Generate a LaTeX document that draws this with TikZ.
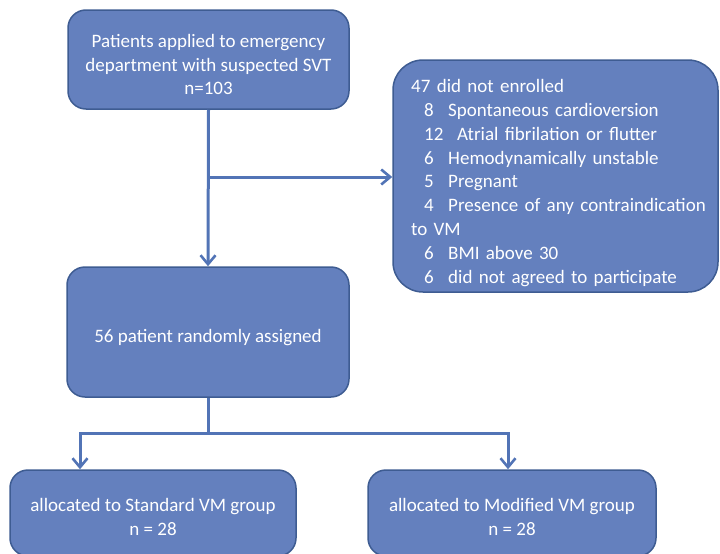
\documentclass[tikz,border=0pt]{standalone}
\usepackage{fontspec}
\setmainfont{Carlito}
\usetikzlibrary{arrows.meta}
\definecolor{boxfill}{RGB}{100,128,190}
\definecolor{boxline}{RGB}{62,92,146}
\definecolor{conn}{RGB}{82,116,182}
\tikzset{
  flowbox/.style={draw=boxline, line width=1.5pt, fill=boxfill,
    rounded corners=18pt, inner sep=0pt},
  boxtext/.style={text=white, align=center, inner sep=0pt,
    font=\fontsize{19}{23.8}\selectfont},
  conline/.style={draw=conn, line width=3pt},
  conarrow/.style={conline, -{Straight Barb[length=9pt,width=15pt,line width=2.6pt]}}
}
\begin{document}
\begin{tikzpicture}[x=1pt,y=-1pt]
\useasboundingbox (0,0) rectangle (720,554);
\node[flowbox, minimum width=281pt, minimum height=99pt] (top) at (208.5,59.5) {};
\node[boxtext] (toptxt) at ([yshift=-5pt]top.center)
  {Patients applied to emergency\\department with suspected SVT\\n=103};
\node[flowbox, rounded corners=30pt, minimum width=325pt, minimum height=232pt] (excl) at (555.5,176) {};
\node[boxtext, anchor=west, align=left, text width=300pt] (excltxt) at (411,183)
  {47 did not enrolled\\
   \hspace*{13pt}\makebox[24pt][l]{8}Spontaneous cardioversion\\
   \hspace*{13pt}\makebox[33pt][l]{12}Atrial fibrilation or flutter\\
   \hspace*{13pt}\makebox[24pt][l]{6}Hemodynamically unstable\\
   \hspace*{13pt}\makebox[24pt][l]{5}Pregnant\\
   \hspace*{13pt}\makebox[24pt][l]{4}Presence of any contraindication\\
   to VM\\
   \hspace*{13pt}\makebox[24pt][l]{6}BMI above 30\\
   \hspace*{13pt}\makebox[24pt][l]{6}did not agreed to participate};
\node[flowbox, minimum width=282pt, minimum height=130pt] (mid) at (208,332) {};
\node[boxtext] (midtxt) at ([yshift=-6pt]mid.center) {56 patient randomly assigned};
\node[flowbox, minimum width=286pt, minimum height=86pt] (left) at (153,513) {};
\node[boxtext] (lefttxt) at ([yshift=-4pt]left.center) {allocated to Standard VM group\\n = 28};
\node[flowbox, minimum width=288pt, minimum height=86pt] (right) at (512,513) {};
\node[boxtext] (righttxt) at ([yshift=-4pt]right.center) {allocated to Modified VM group\\n = 28};
\coordinate (br1) at (208,177);
\coordinate (br2) at (208,433);
\coordinate (bl) at (80,433);
\coordinate (bri) at (508,433);
\draw[conarrow] (top.south) -- (mid.north);
\draw[conarrow] (br1) -- (excl.west |- br1);
\draw[conline] (mid.south) -- (br2);
\draw[conarrow] (br2) -- (bl) -- (bl |- left.north);
\draw[conarrow] (br2) -- (bri) -- (bri |- right.north);
\end{tikzpicture}
\end{document}
